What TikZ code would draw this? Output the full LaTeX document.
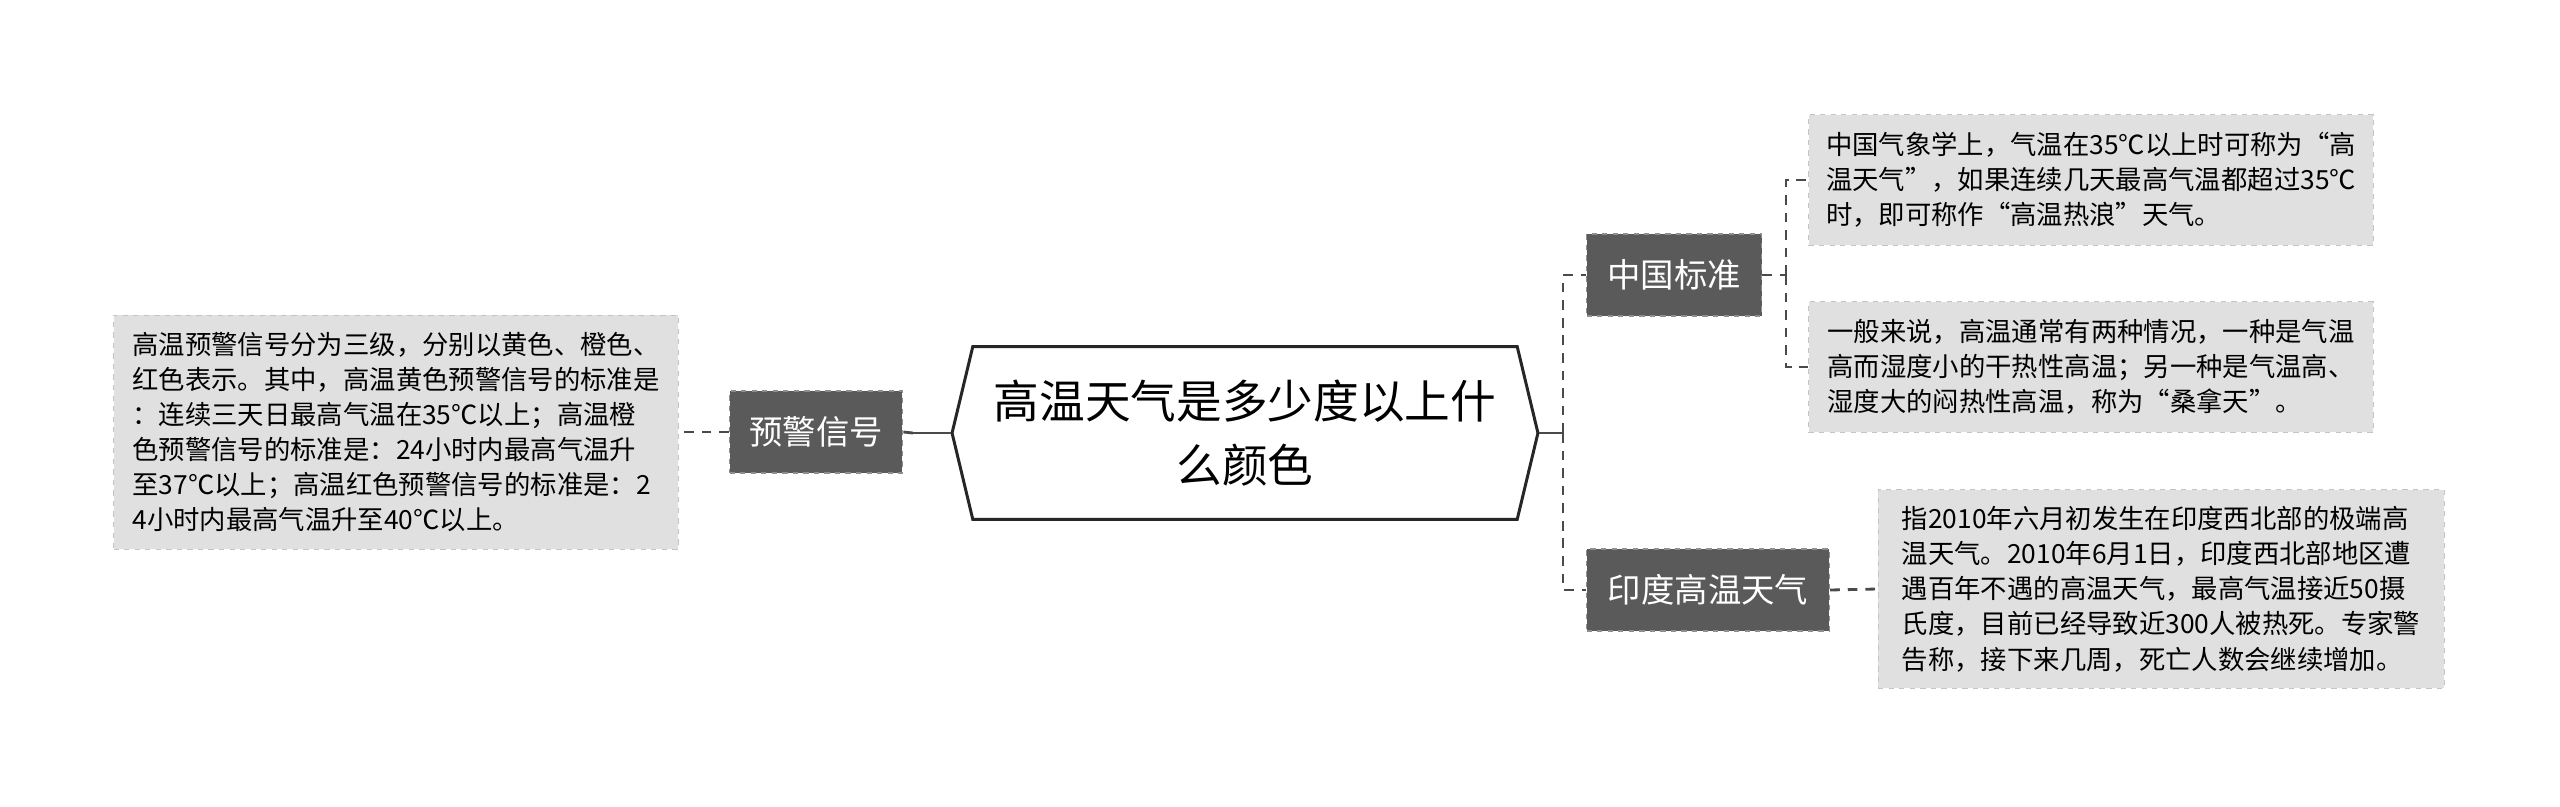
\documentclass[tikz,border=0pt]{standalone}
\usepackage{fontspec}
\setmainfont{Noto Sans CJK SC}
\usetikzlibrary{shapes.symbols, calc}
\usepackage{xcolor}
\definecolor{mmdark}{HTML}{5A5A5A}
\definecolor{mmlight}{HTML}{E0E0E0}
\definecolor{mmedge}{HTML}{C4C4C4}
\definecolor{mmline}{HTML}{4A4A4A}

\begin{document}
\begin{tikzpicture}[x=0.02cm, y=-0.02cm,
    topic/.style={signal, signal to=west and east, signal pointer angle=153,
      draw=black!85, line width=1.7pt, fill=white, inner sep=0pt, align=center,
      minimum width=11.72cm, minimum height=3.46cm, font=\fontsize{26}{36}\selectfont},
    branch/.style={draw=mmedge!50!mmdark, dashed, line width=0.8pt, fill=mmdark, text=white, inner sep=0pt,
      minimum height=1.64cm, font=\fontsize{19}{24}\selectfont},
    leaf/.style={draw=mmedge, dashed, fill=mmlight, inner sep=0pt, align=left,
      minimum width=11.3cm, font=\fontsize{15}{20}\selectfont},
    link/.style={mmline, line width=1.6pt, dash pattern=on 5.5pt off 4.5pt},
    stub/.style={mmline, line width=1.6pt}]
  \useasboundingbox (0,0) rectangle (2560,807);
  % centre topic
  \node[topic] (root) at (1245,433) {高温天气是多少度以上什\\么颜色};
  % branches
  \node[branch, minimum width=3.46cm] (warn) at (816,432) {预警信号};
  \node[branch, minimum width=3.5cm] (cn) at (1674,275) {中国标准};
  \node[branch, minimum width=4.86cm] (india) at (1708,590) {印度高温天气};
  % leaves
  \node[leaf, minimum height=4.68cm] (warntxt) at (396,432) {高温预警信号分为三级，分别以黄色、橙色、\\红色表示。其中，高温黄色预警信号的标准是\\：连续三天日最高气温在35℃以上；高温橙\\色预警信号的标准是：24小时内最高气温升\\至37℃以上；高温红色预警信号的标准是：2\\4小时内最高气温升至40℃以上。};
  \node[leaf, minimum height=2.62cm] (cntxta) at (2091,180) {中国气象学上，气温在35℃以上时可称为“高\\温天气”，如果连续几天最高气温都超过35℃\\时，即可称作“高温热浪”天气。};
  \node[leaf, minimum height=2.62cm] (cntxtb) at (2091,367) {一般来说，高温通常有两种情况，一种是气温\\高而湿度小的干热性高温；另一种是气温高、\\湿度大的闷热性高温，称为“桑拿天”。};
  \node[leaf, minimum height=3.98cm, minimum width=11.32cm] (indiatxt) at (2161,589) {指2010年六月初发生在印度西北部的极端高\\温天气。2010年6月1日，印度西北部地区遭\\遇百年不遇的高温天气，最高气温接近50摄\\氏度，目前已经导致近300人被热死。专家警\\告称，接下来几周，死亡人数会继续增加。};
  % connectors
  \coordinate (rootl) at (913,433);
  \coordinate (rootr) at (1563,433);
  \coordinate (cnr) at (1786,275);
  \draw[stub] (root.west) -- (rootl);
  \draw[link] (rootl) -- (warn.east);
  \draw[link] (warn.west) -- (warntxt.east);
  \draw[stub] (root.east) -- (rootr);
  \draw[link] (rootr) |- (cn.west);
  \draw[link] (rootr) |- (india.west);
  \draw[link] (cn.east) -- (cnr);
  \draw[link] (cnr) |- (cntxta.west);
  \draw[link] (cnr) |- (cntxtb.west);
  \draw[link] (india.east) -- (indiatxt.west);
\end{tikzpicture}
\end{document}
